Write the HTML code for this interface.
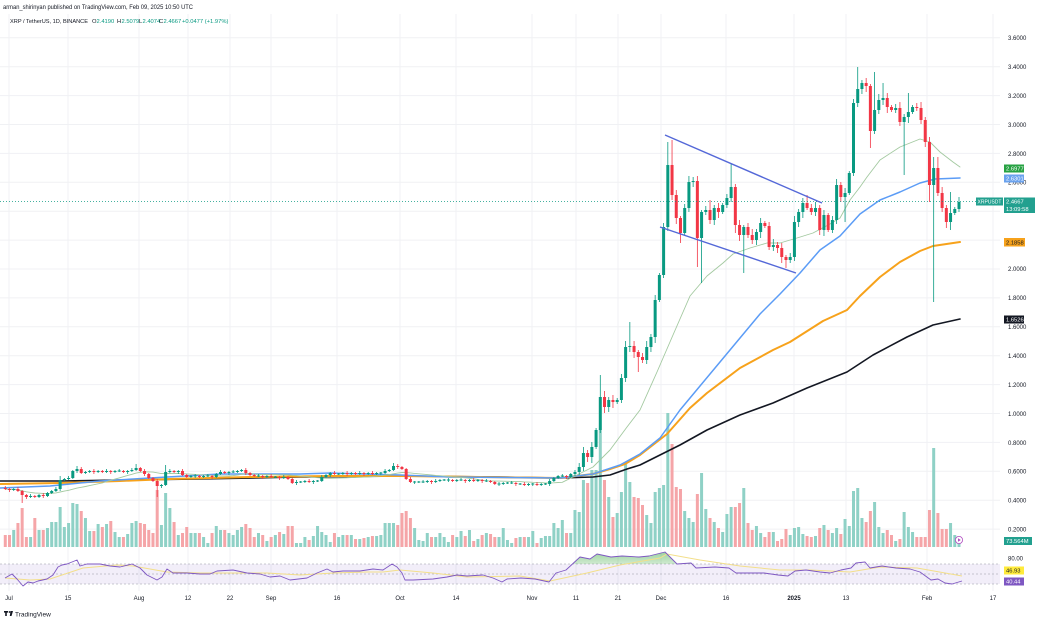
<!DOCTYPE html>
<html><head><meta charset="utf-8">
<style>
html,body{margin:0;padding:0;background:#fff;}
body{width:1042px;height:622px;overflow:hidden;}
svg{display:block}
text{font-family:"Liberation Sans",sans-serif;}
</style></head><body>
<svg id="c" width="1042" height="622" viewBox="0 0 1042 622" xmlns="http://www.w3.org/2000/svg">
<defs>
<linearGradient id="gfill" x1="0" y1="0" x2="0" y2="1">
<stop offset="0" stop-color="#4caf50" stop-opacity="0.55"/>
<stop offset="1" stop-color="#4caf50" stop-opacity="0.05"/>
</linearGradient>
<clipPath id="ob"><rect x="0" y="540" width="1000" height="24"/></clipPath>
</defs>
<g id="grid" stroke="#f0f1f4" stroke-width="1"></g>
<g id="vol"></g>
<g id="mas" fill="none"></g>
<g id="cnd"></g>
<g id="ovl"></g>
<g id="rsi"></g>

<!-- header -->
<text x="3" y="9" font-size="6" fill="#131722" textLength="190" lengthAdjust="spacingAndGlyphs">arman_shirinyan published on TradingView.com, Feb 09, 2025 10:50 UTC</text>
<text y="23" font-size="5.8" fill="#131722"><tspan x="10" textLength="78" lengthAdjust="spacingAndGlyphs">XRP / TetherUS, 1D, BINANCE</tspan><tspan x="92">O</tspan><tspan x="96.5" fill="#089981">2.4190</tspan><tspan x="117">H</tspan><tspan x="121.5" fill="#089981">2.5079</tspan><tspan x="139">L</tspan><tspan x="142.5" fill="#089981">2.4074</tspan><tspan x="159">C</tspan><tspan x="163.5" fill="#089981">2.4667</tspan><tspan x="182" fill="#089981">+0.0477 (+1.97%)</tspan></text>

<!-- price axis -->
<g font-size="6" fill="#131722">
<text x="1008" y="40">3.6000</text>
<text x="1008" y="69">3.4000</text>
<text x="1008" y="98">3.2000</text>
<text x="1008" y="127">3.0000</text>
<text x="1008" y="156">2.8000</text>
<text x="1008" y="184.5">2.6000</text>
<text x="1008" y="271">2.0000</text>
<text x="1008" y="300">1.8000</text>
<text x="1008" y="329">1.6000</text>
<text x="1008" y="358">1.4000</text>
<text x="1008" y="387">1.2000</text>
<text x="1008" y="416">1.0000</text>
<text x="1008" y="445">0.8000</text>
<text x="1008" y="473.5">0.6000</text>
<text x="1008" y="502.5">0.4000</text>
<text x="1008" y="531.5">0.2000</text>
<text x="1008" y="560.5">80.00</text>
</g>
<!-- colored labels -->
<g font-size="5.8">
<rect x="1004" y="164.5" width="20" height="8" fill="#27a243"/>
<text x="1006" y="170.7" fill="#fff">2.6977</text>
<rect x="1004" y="174.5" width="20" height="8" fill="#6aa2ee"/>
<text x="1006" y="180.7" fill="#fff">2.6301</text>
<rect x="976" y="197.5" width="27" height="8" fill="#22a08f"/>
<text x="977.5" y="203.5" fill="#fff" font-size="5" textLength="24" lengthAdjust="spacingAndGlyphs">XRPUSDT</text>
<rect x="1004" y="197.5" width="31" height="15.5" fill="#22a08f"/>
<text x="1006" y="203.6" fill="#fff">2.4667</text>
<text x="1006" y="211" fill="#fff">13:09:58</text>
<rect x="1004" y="238" width="21" height="8.5" fill="#f7a21b"/>
<text x="1006" y="244.4" fill="#131722">2.1858</text>
<rect x="1004" y="315.5" width="20" height="8" fill="#131722"/>
<text x="1006" y="321.6" fill="#fff">1.6526</text>
<rect x="1004" y="537" width="28" height="8" fill="#22a08f"/>
<text x="1006" y="543.2" fill="#fff">73.564M</text>
<rect x="1004" y="566.5" width="20" height="8" fill="#ffeb3b"/>
<text x="1006" y="572.7" fill="#131722">46.93</text>
<rect x="1004" y="577.5" width="20" height="8" fill="#7e57c2"/>
<text x="1006" y="583.7" fill="#fff">40.44</text>
</g>

<!-- time axis -->
<g font-size="6" fill="#131722" text-anchor="middle">
<text x="9" y="600">Jul</text>
<text x="68" y="600">15</text>
<text x="139" y="600">Aug</text>
<text x="188" y="600">12</text>
<text x="230" y="600">22</text>
<text x="271" y="600">Sep</text>
<text x="337" y="600">16</text>
<text x="400" y="600">Oct</text>
<text x="456" y="600">14</text>
<text x="532" y="600">Nov</text>
<text x="576" y="600">11</text>
<text x="618" y="600">21</text>
<text x="661" y="600">Dec</text>
<text x="726" y="600">16</text>
<text x="794" y="600" font-weight="bold">2025</text>
<text x="846" y="600">13</text>
<text x="927" y="600">Feb</text>
<text x="993" y="600">17</text>
</g>

<!-- logo -->
<g fill="#131722">
<rect x="4" y="611" width="4" height="1.6"/>
<rect x="5.2" y="611" width="1.6" height="5"/>
<circle cx="9.5" cy="612" r="0.9"/>
<polygon points="10.5,611 13,611 11.5,616 9.8,616"/>
</g>
<text x="15" y="616.5" font-size="6.5" fill="#131722">TradingView</text>
</svg>
<script>
const NS="http://www.w3.org/2000/svg";
function el(tag,attrs,parent){const e=document.createElementNS(NS,tag);for(const k in attrs)e.setAttribute(k,attrs[k]);parent.appendChild(e);return e;}
const G=id=>document.getElementById(id);

const C=[489,490,489,491,495,497,496,497,495,496,
493,491,489,480,479,478,471,469,473,472,
471,472,471,472,471,472,471,471,472,471,
470,468,471,474,478,481,486,485,472,471,
472,471,475,477,476,476,477,476,476,477,
474,472,473,472,472,471,470,473,475,476,
476,477,476,477,477,478,477,479,483,482,
482,481,482,481,481,477,475,473,474,474,
473,474,473,474,473,474,473,474,473,473,
471,470,466,467,469,479,482,482,482,482,
481,482,481,480,480,480,481,480,480,481,
480,481,480,481,481,482,484,484,483,483,
483,484,484,485,484,484,485,484,484,481,
478,476,476,477,474,
472,467,453,457,447,430,397,407,400,402,
400,378,347,346,352,357,360,347,337,300,
275,227,165,195,218,233,208,182,181,238,
212,210,220,208,212,205,198,187,225,235,
227,235,240,232,223,226,247,245,248,257,
260,257,222,212,203,208,212,208,230,215,
230,220,185,197,193,173,103,89,83,86,
131,110,100,98,107,110,108,122,117,112,
107,108,120,142,185,168,193,208,222,213,
209,202];
const V=[535,535,530,523,508,537,537,518,530,530,
528,522,522,507,527,523,503,504,511,518,
531,531,524,527,524,521,532,537,537,534,
523,521,523,524,530,533,490,525,493,508,
522,535,533,527,533,533,533,537,543,533,
526,530,530,533,535,530,527,524,528,537,
533,535,541,537,535,532,534,526,526,543,
543,537,540,536,526,532,535,542,533,537,
535,535,535,539,539,538,537,536,536,535,
523,523,523,525,513,511,518,528,540,541,
533,537,537,533,537,542,535,537,531,536,
530,541,539,535,533,534,537,537,528,540,
543,538,537,537,537,531,543,538,536,536,
523,528,520,533,533,510,512,480,483,470,
470,430,480,497,517,513,492,463,482,497,
498,505,515,523,492,488,485,413,444,487,
489,511,518,522,494,473,509,518,522,528,
532,514,507,507,503,488,523,530,526,533,
537,532,532,541,539,529,535,528,527,534,
536,537,536,528,525,530,533,528,534,519,
526,491,488,518,522,511,502,527,533,530,
535,541,539,512,527,532,537,537,537,510,
448,513,529,529,523,535,538];
const OV={4:[null,503],13:[476,null],17:[466,null],31:[464,null],36:[null,497],38:[465,null],92:[463,null],
141:[375,null],142:[null,413],148:[322,null],150:[null,372],157:[142,null],158:[140,null],160:[null,243],
163:[177,null],164:[null,267],165:[null,283],167:[200,null],172:[163,null],173:[null,233],175:[null,273],
185:[null,268],190:[195,null],199:[null,222],202:[67,null],205:[null,148],206:[72,null],208:[83,null],
213:[null,175],214:[93,null],219:[null,202],220:[157,302],221:[157,null],223:[null,228],224:[192,230],226:[197,null]};
const N=C.length;
const X=j=>959-(N-1-j)*4.22;
const UP="#089981",DN="#f23645";

// grid
const grid=G('grid');
for(let p=0.2;p<3.61;p+=0.2){const y=(558-p*144.5).toFixed(1);el('line',{x1:0,y1:y,x2:1000,y2:y},grid);}
[9,68,139,188,230,271,337,400,456,532,576,618,661,726,794,846,927,993].forEach(x=>el('line',{x1:x,y1:14,x2:x,y2:591},grid));

// volume
let vu='',vd='';
for(let j=0;j<N;j++){const o=j?C[j-1]:488,c=C[j],x=X(j);const s=`M${(x-1.5).toFixed(2)} ${V[j]}h3V547h-3z`;if(c<=o)vu+=s;else vd+=s;}
el('path',{d:vu,fill:"#8fd1c6"},G('vol'));
el('path',{d:vd,fill:"#f5a5a8"},G('vol'));

// MAs
const mas=G('mas');
function pl(pts,col,w){el('polyline',{points:pts,stroke:col,'stroke-width':w,'stroke-linejoin':'round','stroke-linecap':'round'},mas);}
let p20=[];
for(let j=0;j<=132;j++){let s=0,n=0;for(let k=Math.max(0,j-19);k<=j;k++){s+=C[k];n++;}p20.push(X(j).toFixed(1)+','+(s/n).toFixed(1));}
p20=p20.join(' ')+' 575,476 593,467 610,450 627,427 640,410 657,372 673,335 690,296 707,276 723,263 733,254 750,248 767,243 780,243 797,238 813,233 830,224 840,218 850,200 860,187 867,177 880,160 900,147 920,139 930,142 940,152 953,162 960,167';
pl("0,481 60,481 120,480 200,479 300,477 400,476 500,477 560,478 593,477 610,475 627,469 640,465 660,455 680,445 707,430 740,415 773,403 807,388 847,372 873,355 907,337 933,325 960,319","#131722",1.6);
pl("0,484 60,483 120,481 170,479 250,477 330,476 400,476 480,477 560,478 593,474 610,469 625,464 640,455 667,434 690,408 707,393 740,368 773,350 790,342 823,321 847,310 860,296 880,277 900,262 920,251 933,246 960,242","#f7a21b",2);
pl("0,488 50,486 100,481 150,478 220,474 300,474 330,473 400,475 450,477 560,478 593,474 620,465 640,454 660,438 680,410 700,386 720,362 740,338 760,314 780,294 800,273 820,250 840,236 860,214 880,200 900,192 920,183 935,179 960,178","#5b9cf6",1.5);
pl(p20,"#a3c9a0",0.9);

// candles
let wu_='',wd_='',bu='',bd='';
for(let j=0;j<N;j++){
 const o=j?C[j-1]:488,c=C[j],x=X(j);const up=c<=o;
 const top=Math.min(o,c),bot=Math.max(o,c);
 let a,b;
 if(j<135){a=1+(j%3==0?1:0);b=1+(j%4==1?1:0);}else{a=2+((j*7)%5);b=2+((j*11)%5);}
 let hi=top-a,lo=bot+b;
 if(OV[j]){if(OV[j][0]!=null)hi=OV[j][0];if(OV[j][1]!=null)lo=OV[j][1];}
 const w=`M${x.toFixed(2)} ${hi}V${lo}`;
 let h=bot-top;let t=top;if(h<1){h=1;t=top-0.5;}
 const r=`M${(x-1.5).toFixed(2)} ${t}h3v${h}h-3z`;
 if(up){wu_+=w;bu+=r;}else{wd_+=w;bd+=r;}
}
const cg=G('cnd');
el('path',{d:wu_,stroke:UP,'stroke-width':0.8,fill:'none'},cg);
el('path',{d:wd_,stroke:DN,'stroke-width':0.8,fill:'none'},cg);
el('path',{d:bu,fill:UP},cg);
el('path',{d:bd,fill:DN},cg);

// overlays
const ov=G('ovl');
el('line',{x1:0,y1:201.6,x2:976,y2:201.6,stroke:"#089981",'stroke-width':0.8,'stroke-dasharray':'1,2'},ov);
el('line',{x1:665,y1:135,x2:822,y2:203,stroke:"#5468d8",'stroke-width':1.4},ov);
el('line',{x1:660,y1:227,x2:796,y2:273,stroke:"#5468d8",'stroke-width':1.4},ov);
el('circle',{cx:959,cy:540,r:3.6,fill:"#fff",stroke:"#b04cc0",'stroke-width':0.8},ov);
el('path',{d:"M958 538.3 L960.8 540 L958 541.7z",fill:"#b04cc0"},ov);

// RSI
const rg=G('rsi');
el('rect',{x:0,y:564,width:1000,height:20,fill:"#7e57c2",'fill-opacity':0.1},rg);
[564,574,584].forEach(y=>el('line',{x1:0,y1:y,x2:1000,y2:y,stroke:"#9598a1",'stroke-width':0.6,'stroke-dasharray':'2,2'},rg));
const R="5,578 12,574 17,579 23,586 28,582 33,583 38,581 47,579 53,575 58,567 62,565 67,564 72,562 77,560 80,566 87,564 100,564 110,566 120,567 132,564 140,568 147,575 157,580 162,577 167,569 173,573 187,573 200,574 210,574 217,571 233,570 247,573 260,574 270,577 280,576 290,580 307,578 317,573 327,569 333,572 343,571 360,571 373,569 383,570 392,564 397,567 402,573 405,580 413,580 433,579 447,577 457,575 467,576 483,575 493,578 502,582 507,579 521,578 535,579 549,582 556,573 566,570 580,557 590,559 597,554 611,557 622,556 639,557 649,556 665,552 677,564 691,563 696,568 715,567 729,568 736,573 764,573 778,575 788,576 795,571 806,570 820,572 830,573 841,570 851,568 856,563 865,562 870,568 882,566 896,568 910,569 920,572 931,580 938,579 945,583 952,584 962,581";
const fillPts="556,564 556,573 566,570 580,557 590,559 597,554 611,557 622,556 639,557 649,556 665,552 677,564 691,563 696,568 696,564";
el('polygon',{points:fillPts,fill:"url(#gfill)",'clip-path':"url(#ob)"},rg);
el('polyline',{points:"5,578 30,580 50,579 83,568 117,565 133,566 167,572 200,573 267,573 300,575 333,573 367,572 383,572 400,570 433,573 467,577 520,576 550,581 587,573 620,565 660,558 667,554 700,560 740,566 780,570 810,570 850,572 880,567 917,568 962,576",fill:'none',stroke:"#f3df8a",'stroke-width':1},rg);
el('polyline',{points:R,fill:'none',stroke:"#7e57c2",'stroke-width':0.9,'stroke-linejoin':'round'},rg);
</script>
</body></html>
